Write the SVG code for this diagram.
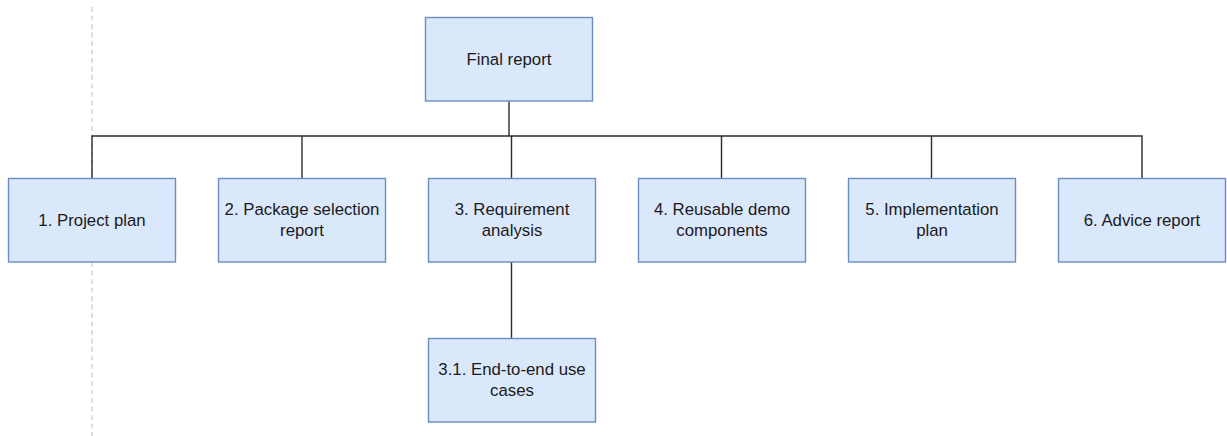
<svg xmlns="http://www.w3.org/2000/svg" width="1227" height="436" viewBox="0 0 1227 436">
  <style>
    .box { fill: #dae8fc; stroke: #6c8ebf; stroke-width: 1.4; }
    .lbl { font-family: "Liberation Sans", Arial, sans-serif; font-size: 16.8px; fill: #1a1a1a; text-anchor: middle; }
    .edge { fill: none; stroke: #2b2b2b; stroke-width: 1.4; }
    .guide { fill: none; stroke: #c8c8c8; stroke-width: 1.2; stroke-dasharray: 5 3.5; }
  </style>
  <rect width="1227" height="436" fill="#ffffff"/>

  <!-- vertical guide -->
  <line class="guide" x1="92" y1="7" x2="92" y2="436"/>

  <!-- connectors -->
  <g id="connectors">
    <path class="edge" d="M509 101 V136"/>
    <path class="edge" d="M92 178 V136 H1142 V178"/>
    <path class="edge" d="M302 136 V178"/>
    <path class="edge" d="M511.5 136 V178"/>
    <path class="edge" d="M721.5 136 V178"/>
    <path class="edge" d="M931.5 136 V178"/>
    <path class="edge" d="M511.5 262 V338"/>
  </g>

  <g id="final-report">
    <rect class="box" x="425.5" y="17.5" width="167" height="83.5"/>
    <text class="lbl" x="509" y="64.5">Final report</text>
  </g>

  <g id="project-plan">
    <rect class="box" x="8.5" y="178.5" width="167" height="83.5"/>
    <text class="lbl" x="92" y="225.5">1. Project plan</text>
  </g>

  <g id="package-selection">
    <rect class="box" x="218.5" y="178.5" width="167" height="83.5"/>
    <text class="lbl" x="302" y="215">2. Package selection</text>
    <text class="lbl" x="302" y="235.5">report</text>
  </g>

  <g id="requirement-analysis">
    <rect class="box" x="428.5" y="178.5" width="167" height="83.5"/>
    <text class="lbl" x="512" y="215">3. Requirement</text>
    <text class="lbl" x="512" y="235.5">analysis</text>
  </g>

  <g id="demo-components">
    <rect class="box" x="638.5" y="178.5" width="167" height="83.5"/>
    <text class="lbl" x="722" y="215">4. Reusable demo</text>
    <text class="lbl" x="722" y="235.5">components</text>
  </g>

  <g id="implementation-plan">
    <rect class="box" x="848.5" y="178.5" width="167" height="83.5"/>
    <text class="lbl" x="932" y="215">5. Implementation</text>
    <text class="lbl" x="932" y="235.5">plan</text>
  </g>

  <g id="advice-report">
    <rect class="box" x="1058.5" y="178.5" width="167" height="83.5"/>
    <text class="lbl" x="1142" y="225.5">6. Advice report</text>
  </g>

  <g id="use-cases">
    <rect class="box" x="428.5" y="338.5" width="167" height="83.5"/>
    <text class="lbl" x="512" y="375">3.1. End-to-end use</text>
    <text class="lbl" x="512" y="395.5">cases</text>
  </g>
</svg>
